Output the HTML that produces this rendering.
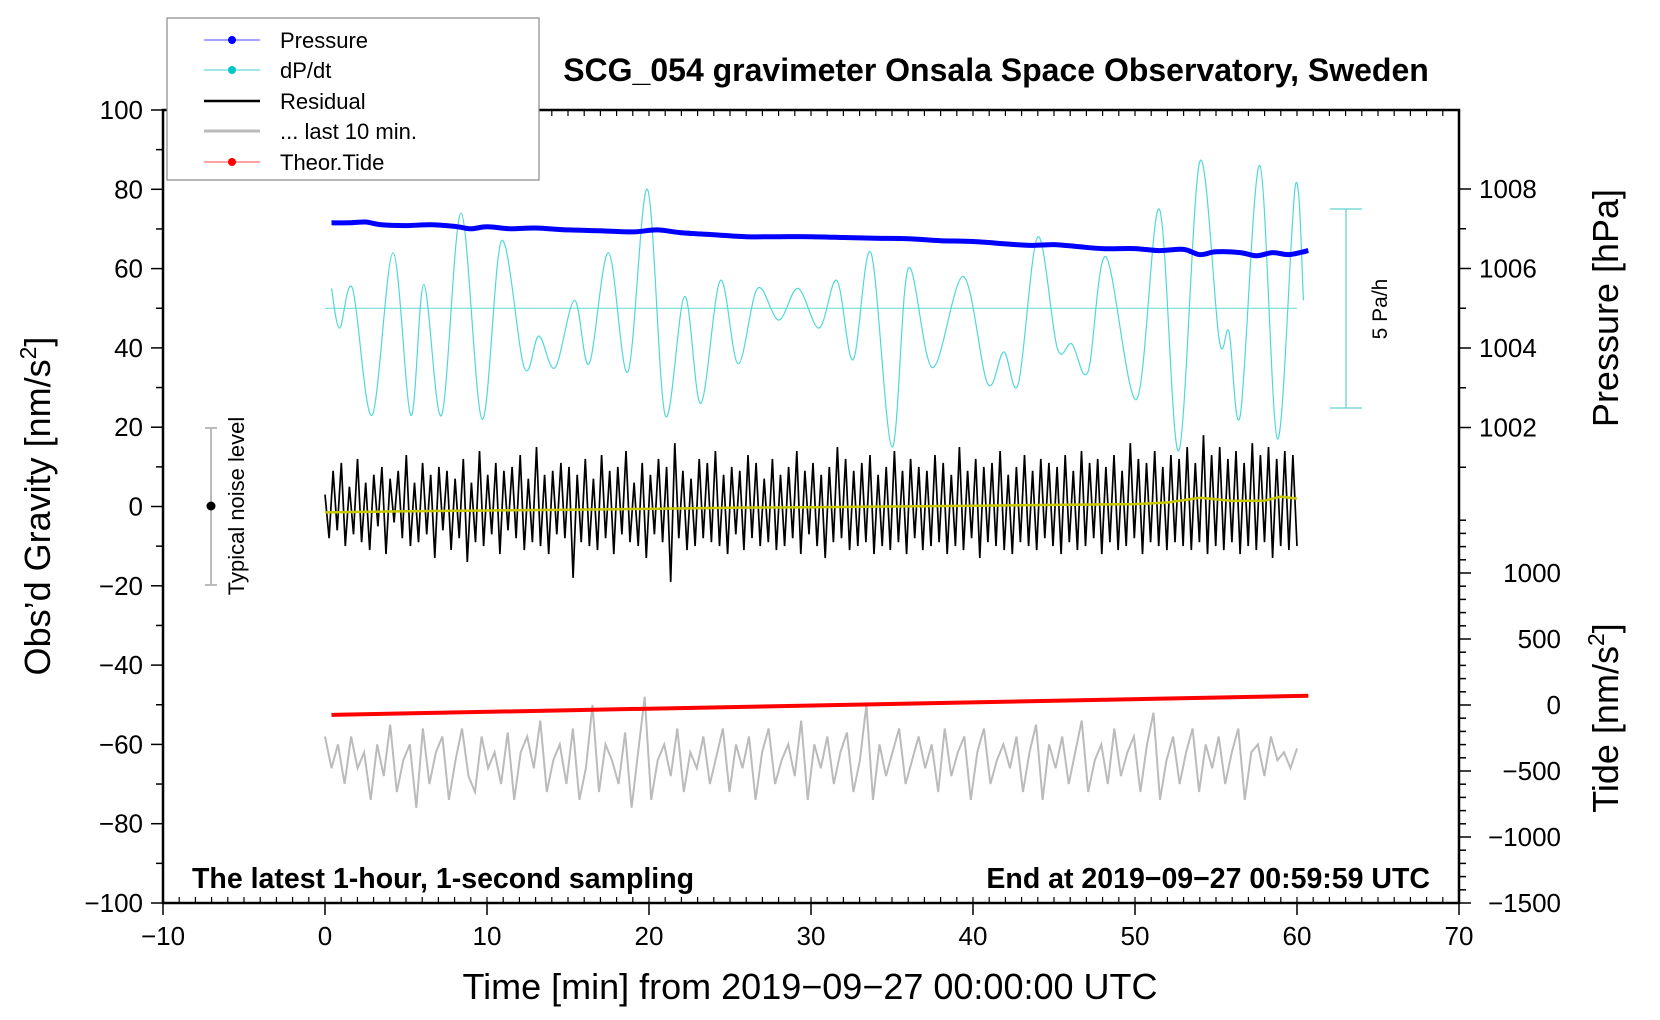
<!DOCTYPE html>
<html><head><meta charset="utf-8"><style>
html,body{margin:0;padding:0;background:#fff}
svg{display:block;font-family:"Liberation Sans",Arial,sans-serif}
</style></head><body>
<svg id="chart" width="1660" height="1020" viewBox="0 0 1660 1020" xmlns="http://www.w3.org/2000/svg">
<rect width="1660" height="1020" fill="#fff"/>
<g id="marks"></g>
<g id="axes"></g>
<text x="996" y="81" font-size="32" font-weight="bold" text-anchor="middle">SCG_054 gravimeter Onsala Space Observatory, Sweden</text>
<text x="810" y="999" font-size="36" text-anchor="middle">Time [min] from 2019−09−27 00:00:00 UTC</text>
<text transform="translate(50,506) rotate(-90)" font-size="36" text-anchor="middle">Obs’d Gravity [nm/s<tspan font-size="23" dy="-14">2</tspan><tspan dy="14">]</tspan></text>
<text transform="translate(1618,308) rotate(-90)" font-size="36" text-anchor="middle">Pressure [hPa]</text>
<text transform="translate(1618,718) rotate(-90)" font-size="36" text-anchor="middle">Tide [nm/s<tspan font-size="23" dy="-14">2</tspan><tspan dy="14">]</tspan></text>
<text x="192" y="888" font-size="28.5" font-weight="bold">The latest 1-hour, 1-second sampling</text>
<text x="1430" y="888" font-size="28.5" font-weight="bold" text-anchor="end">End at 2019−09−27 00:59:59 UTC</text>
<g stroke="#7fd8d8" stroke-width="1.5">
<line x1="1346" y1="209" x2="1346" y2="408"/><line x1="1330" y1="209" x2="1362" y2="209"/><line x1="1330" y1="408" x2="1362" y2="408"/>
</g>
<text transform="translate(1387,309) rotate(-90)" font-size="21" text-anchor="middle">5 Pa/h</text>
<g stroke="#bbb" stroke-width="2">
<line x1="211" y1="428" x2="211" y2="585"/><line x1="205" y1="428" x2="217" y2="428"/><line x1="205" y1="585" x2="217" y2="585"/>
</g>
<circle cx="211" cy="506" r="4.5" fill="#000"/>
<text transform="translate(244,506) rotate(-90)" font-size="22" text-anchor="middle">Typical noise level</text>
<g>
<rect x="167" y="18" width="372" height="162" fill="#fff" stroke="#888" stroke-width="1.2"/>
<g><line x1="204" y1="40" x2="260" y2="40" stroke="#4444ff" stroke-width="1"/><circle cx="232" cy="40" r="4" fill="#00f"/><text x="280" y="48" font-size="22">Pressure</text></g>
<g><line x1="204" y1="70" x2="260" y2="70" stroke="#40d0d0" stroke-width="1"/><circle cx="232" cy="70" r="4" fill="#00c8c8"/><text x="280" y="78" font-size="22">dP/dt</text></g>
<g><line x1="204" y1="101" x2="260" y2="101" stroke="#000" stroke-width="2.5"/><text x="280" y="109" font-size="22">Residual</text></g>
<g><line x1="204" y1="131" x2="260" y2="131" stroke="#bbb" stroke-width="3"/><text x="280" y="139" font-size="22">... last 10 min.</text></g>
<g><line x1="204" y1="162" x2="260" y2="162" stroke="#f44" stroke-width="1"/><circle cx="232" cy="162" r="4" fill="#f00"/><text x="280" y="170" font-size="22">Theor.Tide</text></g>
</g>
</svg>
<script>
const xTicks=[-10,0,10,20,30,40,50,60,70];
const yTicks=[100,80,60,40,20,0,-20,-40,-60,-80,-100];
const pTicks=[1002,1004,1006,1008];
const tideTicks=[1000,500,0,-500,-1000,-1500];
const pressT=[0.4,1.5,2.5,3.5,5,6.5,8,9,10,11.5,13,15,17,19,20.5,22,24,26,28,30,32,34,36,38,40,42,43.5,45,46.5,48,50,51.5,53,54,55,56.5,57.5,58.5,59.5,60.7];
const pressV=[1007.15,1007.15,1007.17,1007.1,1007.08,1007.1,1007.06,1007.0,1007.05,1007.0,1007.02,1006.97,1006.95,1006.92,1006.97,1006.9,1006.85,1006.8,1006.8,1006.8,1006.78,1006.76,1006.75,1006.7,1006.68,1006.62,1006.58,1006.6,1006.55,1006.5,1006.5,1006.45,1006.48,1006.35,1006.42,1006.4,1006.32,1006.4,1006.35,1006.45];
const dpT=[0.4,0.9,1.7,2.9,4.2,5.3,6.1,7.2,8.4,9.7,10.9,12.3,13.2,14.2,15.4,16.3,17.5,18.7,19.9,21.0,22.2,23.2,24.4,25.5,26.7,28.0,29.2,30.5,31.6,32.6,33.7,35.0,36.0,37.5,39.4,40.9,41.9,42.8,44.0,45.2,46.1,47.1,48.2,50.1,51.5,52.7,54.0,55.2,55.8,56.5,57.7,58.8,59.9,60.4];
const dpV=[55,45,55,23,64,23,56,23,74,22,67,35,43,35,52,36,64,34,80,23,53,26,57,36,55,47,55,45,57,37,64,15,60,35,58,31,39,31,68,40,41,34,63,27,75,14,87,42,44,23,86,17,81,52];
const dpBase=50;
const tideT=[0.4,60.7];
const tideV=[-75,70];
const yellowT=[0,5,10,15,20,25,30,35,40,45,50,52,54,56,58,59,60];
const yellowV=[-1.5,-1.2,-1.0,-0.8,-0.6,-0.3,-0.2,0,0.2,0.4,0.6,1.0,2.2,1.4,1.5,2.5,2.0];
const resid=[3,-8,9,-6,11,-10,5,-7,12,-9,6,-11,8,-5,10,-12,7,-4,9,-8,13,-10,6,-9,11,-7,8,-13,10,-6,
9,-11,7,-8,12,-14,6,-9,14,-10,8,-7,11,-12,9,-6,10,-8,13,-11,7,-9,15,-10,8,-12,9,-7,11,-8,
10,-18,8,-9,12,-10,7,-11,13,-8,9,-12,10,-7,14,-9,6,-10,11,-13,8,-7,12,-9,10,-19,16,-8,9,-11,
7,-10,12,-8,11,-9,14,-10,8,-12,10,-7,9,-11,13,-8,11,-10,7,-9,12,-11,8,-10,10,-8,14,-12,9,-7,
11,-10,8,-13,10,-9,15,-8,12,-11,9,-10,11,-9,13,-12,8,-10,10,-11,14,-9,9,-12,12,-8,10,-11,9,-10,
13,-9,11,-12,8,-10,15,-11,9,-8,12,-13,10,-9,11,-10,14,-11,8,-12,10,-9,13,-10,9,-11,12,-8,11,-10,
10,-12,13,-9,9,-11,14,-10,11,-8,12,-12,10,-9,13,-11,9,-10,16,-8,12,-12,11,-9,14,-10,10,-11,13,-9,
12,-10,15,-11,11,-9,18,-12,13,-10,15,-11,12,-9,14,-12,11,-10,16,-11,13,-9,15,-13,12,-10,14,-11,13,-10];
const gray=[-58,-66,-60,-70,-58,-66,-62,-74,-60,-68,-55,-72,-64,-60,-76,-56,-70,-62,-58,-74,-64,-56,-68,-72,-58,-66,-62,-70,-57,-74,
-62,-58,-66,-54,-72,-64,-60,-70,-56,-74,-66,-50,-72,-60,-64,-70,-57,-76,-62,-48,-74,-64,-60,-68,-56,-72,-62,-66,-58,-70,
-63,-56,-72,-60,-66,-58,-74,-62,-56,-70,-64,-60,-68,-54,-74,-60,-66,-58,-70,-62,-57,-72,-64,-50,-74,-60,-68,-62,-56,-70,
-64,-58,-66,-60,-72,-56,-68,-62,-58,-74,-62,-56,-70,-64,-60,-66,-58,-72,-62,-55,-74,-60,-66,-58,-70,-62,-54,-72,-64,-60,
-70,-56,-68,-62,-58,-72,-60,-52,-74,-64,-58,-70,-62,-56,-72,-60,-66,-58,-70,-62,-56,-74,-62,-60,-68,-58,-64,-62,-66,-61];
const ns='http://www.w3.org/2000/svg';
const L=163,R=1459,T=110,B=903;
const X=t=>L+(t+10)*(R-L)/80;
const Y=v=>T+(100-v)*(B-T)/200;
const YP=p=>189+(1008-p)*39.75;
const YT=v=>705-v*0.132;
const marks=document.getElementById('marks'),axes=document.getElementById('axes');
function mk(tag,at,parent){const e=document.createElementNS(ns,tag);for(const k in at)e.setAttribute(k,at[k]);parent.appendChild(e);return e;}
function smooth(pts){let d='M'+pts[0][0].toFixed(1)+','+pts[0][1].toFixed(1);
for(let i=0;i<pts.length-1;i++){const p0=pts[Math.max(0,i-1)],p1=pts[i],p2=pts[i+1],p3=pts[Math.min(pts.length-1,i+2)];
d+=' C'+(p1[0]+(p2[0]-p0[0])/6).toFixed(1)+','+(p1[1]+(p2[1]-p0[1])/6).toFixed(1)+' '+(p2[0]-(p3[0]-p1[0])/6).toFixed(1)+','+(p2[1]-(p3[1]-p1[1])/6).toFixed(1)+' '+p2[0].toFixed(1)+','+p2[1].toFixed(1);}
return d;}
let e=mk('line',{x1:X(0),x2:X(60),y1:Y(dpBase),y2:Y(dpBase),stroke:'#66d8d8','stroke-width':1},marks);


e=mk('path',{d:smooth(dpT.map((t,i)=>[X(t),Y(dpV[i])])),fill:'none',stroke:'#50d8d8','stroke-width':1.2},marks);


e=mk('path',{d:smooth(pressT.map((t,i)=>[X(t),YP(pressV[i])])),fill:'none',stroke:'#0000ff','stroke-width':5},marks);


let d='';resid.forEach((v,i)=>{d+=(i?'L':'M')+X(i*60/(resid.length-1)).toFixed(1)+','+Y(v).toFixed(1);});
e=mk('path',{d:d,fill:'none',stroke:'#000','stroke-width':1.7},marks);


d='';yellowT.forEach((t,i)=>{d+=(i?'L':'M')+X(t).toFixed(1)+','+Y(yellowV[i]).toFixed(1);});
e=mk('path',{d:d,fill:'none',stroke:'#c8c800','stroke-width':2.5},marks);


d='';gray.forEach((v,i)=>{d+=(i?'L':'M')+X(i*60/(gray.length-1)).toFixed(1)+','+Y(v).toFixed(1);});
e=mk('path',{d:d,fill:'none',stroke:'#bbb','stroke-width':2},marks);


e=mk('line',{x1:X(tideT[0]),y1:YT(tideV[0]),x2:X(tideT[1]),y2:YT(tideV[1]),stroke:'#f00','stroke-width':4},marks);


e=mk('rect',{x:L,y:T,width:R-L,height:B-T,fill:'none',stroke:'#000','stroke-width':2.5},axes);


for(let t=-10;t<=70;t++){mk('line',{x1:X(t),x2:X(t),y1:B,y2:B-6,stroke:'#000','stroke-width':1.2},axes);mk('line',{x1:X(t),x2:X(t),y1:T,y2:T+6,stroke:'#000','stroke-width':1.2},axes);}
xTicks.forEach(t=>{mk('line',{x1:X(t),x2:X(t),y1:B,y2:B+12,stroke:'#000','stroke-width':1.5},axes);
const tx=mk('text',{x:X(t),y:B+42,'font-size':26,'text-anchor':'middle'},axes);tx.textContent=String(t).replace('-','−');

});
for(let v=-100;v<=100;v+=10)mk('line',{x1:L,x2:L-(v%20===0?12:7),y1:Y(v),y2:Y(v),stroke:'#000','stroke-width':1.5},axes);
yTicks.forEach(v=>{const tx=mk('text',{x:L-20,y:Y(v)+9,'font-size':26,'text-anchor':'end'},axes);tx.textContent=String(v).replace('-','−');

});
for(let p=1001;p<=1008;p++)mk('line',{x1:R,x2:R+(p%2===0?12:7),y1:YP(p),y2:YP(p),stroke:'#000','stroke-width':1.5},axes);
pTicks.forEach(p=>{const tx=mk('text',{x:R+20,y:YP(p)+9,'font-size':26},axes);tx.textContent=p;

});
for(let v=-1500;v<=1400;v+=100)mk('line',{x1:R,x2:R+(v%500===0?12:7),y1:YT(v),y2:YT(v),stroke:'#000','stroke-width':1.5},axes);
tideTicks.forEach(v=>{const tx=mk('text',{x:R+102,y:YT(v)+9,'font-size':26,'text-anchor':'end'},axes);tx.textContent=String(v).replace('-','−');

});
</script>
</body></html>
